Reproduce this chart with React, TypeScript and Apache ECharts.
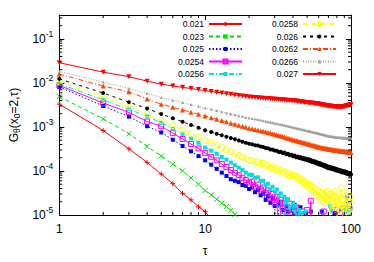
import React, { useEffect, useRef } from 'react';
import * as echarts from 'echarts';

const TAU = Array.from({ length: 100 }, (_, i) => i + 1);
const NAMES = ['0.021', '0.023', '0.025', '0.0254', '0.0256', '0.0258', '0.026', '0.0262', '0.0266', '0.027'];
const X_LABELS = ['1', '10', '100'];
const X_MIN = 1, X_MAX = 100, Y_MIN = 1e-5, Y_MAX = 0.35;
const X_MINOR = [2, 3, 4, 5, 6, 7, 8, 9, 20, 30, 40, 50, 60, 70, 80, 90];
const Y_MINOR_MANT = [2, 3, 4, 5, 6, 7, 8, 9];
const Y_DECADES = [-5, -4, -3, -2, -1];

const G021 = [3.3e-3, 8.3e-4, 3.18e-4, 1.57e-4, 8.5e-5, 5.15e-5, 3.1e-5, 2.2e-5, 1.53e-5, 1.19e-5, 8e-6, 6e-6];
const G023 = [4.9e-3, 1.53e-3, 7.0e-4, 3.6e-4, 2.19e-4, 1.42e-4, 1.01e-4, 6.9e-5, 5.0e-5, 3.6e-5, 2.85e-5, 2.27e-5, 1.85e-5, 1.55e-5, 1.27e-5, 1.03e-5, 8e-6, 6e-6];
const G025 = [8.1e-3, 3.0e-3, 1.72e-3, 1.04e-3, 7.5e-4, 5.12e-4, 3.7e-4, 2.8e-4, 2.18e-4, 1.75e-4,
  1.39e-4, 1.12e-4, 9.2e-5, 7.7e-5, 6.5e-5, 6.0e-5, 5.6e-5, 4.8e-5, 4.6e-5, 3.9e-5,
  4.2e-5, 3.3e-5, 3.7e-5, 2.8e-5, 3.1e-5, 2.2e-5, 2.7e-5, 1.9e-5, 2.4e-5, 1.6e-5,
  1e-6, 1.8e-5, 2.0e-5, 1.3e-5, 1e-6, 1.6e-5, 1.2e-5, 1e-6, 1.4e-5, 1e-6,
  1.7e-5, 1e-6, 1.2e-5, 1e-6, 1.5e-5, 1e-6, 1e-6, 1.1e-5, 1e-6, 1e-6,
  1e-6, 1e-6, 1.2e-5, 1e-6, 1e-6, 1e-6, 1e-6, 1e-6, 1e-6, 1e-6,
  1e-6, 1e-6, 1.2e-5, 1e-6, 1e-6, 1e-6, 1e-6, 1e-6, 1e-6, 1e-6,
  1e-6, 1e-6, 1e-6, 1e-6, 1e-6, 1e-6, 1.1e-5, 1e-6, 1e-6, 1e-6,
  1e-6, 1e-6, 1e-6, 1e-6, 1e-6, 1e-6, 1e-6, 1e-6, 1e-6, 1e-6,
  1e-6, 1e-6, 1e-6, 2.5e-5, 1e-6, 1e-6, 1e-6, 1e-6, 1.4e-5, 1e-6];
const G0254 = [8.8e-3, 3.5e-3, 2.14e-3, 1.33e-3, 1.04e-3, 7.26e-4, 5.35e-4, 4.1e-4, 3.25e-4, 2.55e-4,
  2.1e-4, 1.74e-4, 1.45e-4, 1.23e-4, 1.05e-4, 9.1e-5, 8.0e-5, 7.0e-5, 6.2e-5, 5.5e-5,
  5.7e-5, 4.4e-5, 4.9e-5, 3.8e-5, 4.2e-5, 3.2e-5, 3.6e-5, 2.4e-5, 3.0e-5, 1.9e-5,
  2.6e-5, 1e-6, 2.2e-5, 1.5e-5, 1.9e-5, 1e-6, 1.4e-5, 1.8e-5, 1e-6, 1.3e-5,
  1e-6, 1.5e-5, 1.1e-5, 1e-6, 1e-6, 1.2e-5, 1e-6, 1e-6, 1e-6, 1.3e-5,
  1e-6, 1e-6, 2.1e-5, 1e-6, 1e-6, 1e-6, 1e-6, 1e-6, 1e-6, 1e-6,
  1e-6, 1e-6, 1e-6, 1e-6, 1.2e-5, 1e-6, 1e-6, 1e-6, 1e-6, 1e-6,
  1e-6, 1e-6, 1e-6, 1e-6, 1e-6, 1e-6, 1e-6, 1e-6, 1e-6, 1.3e-5,
  1e-6, 1e-6, 1e-6, 1e-6, 1e-6, 1e-6, 1e-6, 1.4e-5, 1e-6, 1e-6,
  1e-6, 1e-6, 1e-6, 1e-6, 1e-6, 1e-6, 1e-6, 1e-6, 1e-6, 1e-6];
const G0256 = [9.6e-3, 4.1e-3, 2.52e-3, 1.74e-3, 1.25e-3, 9.1e-4, 7.0e-4, 5.5e-4, 4.4e-4, 3.4e-4,
  2.9e-4, 2.45e-4, 2.08e-4, 1.8e-4, 1.55e-4, 1.35e-4, 1.19e-4, 1.05e-4, 9.2e-5, 8.3e-5,
  8.1e-5, 7.0e-5, 7.2e-5, 5.9e-5, 6.0e-5, 4.8e-5, 5.1e-5, 3.9e-5, 4.4e-5, 3.4e-5,
  3.8e-5, 2.7e-5, 3.1e-5, 1e-6, 2.6e-5, 1.9e-5, 2.3e-5, 1.5e-5, 1e-6, 1.9e-5,
  1.2e-5, 1.6e-5, 1e-6, 1.3e-5, 1e-6, 1.1e-5, 1e-6, 1e-6, 1.2e-5, 1e-6,
  1e-6, 1e-6, 1e-6, 1e-6, 1e-6, 1e-6, 1e-6, 1e-6, 1e-6, 1e-6,
  1e-6, 1e-6, 1e-6, 1e-6, 1e-6, 1e-6, 1e-6, 1e-6, 1e-6, 1e-6,
  1e-6, 1.6e-5, 1.3e-5, 1e-6, 1e-6, 1e-6, 1e-6, 1e-6, 1e-6, 1e-6,
  1e-6, 1e-6, 1e-6, 1e-6, 1e-6, 1e-6, 1e-6, 1e-6, 1e-6, 1e-6,
  1.3e-5, 1e-6, 1e-6, 1e-6, 1e-6, 1e-6, 1.2e-5, 1e-6, 1e-6, 1e-6];
const G0258 = [1.06e-2, 4.7e-3, 2.85e-3, 1.97e-3, 1.4e-3, 1.07e-3, 8.5e-4, 6.95e-4, 5.83e-4, 4.99e-4,
  4.34e-4, 3.8e-4, 3.37e-4, 3.01e-4, 2.72e-4, 2.47e-4, 2.25e-4, 2.07e-4, 1.9e-4, 1.76e-4,
  1.72e-4, 1.58e-4, 1.61e-4, 1.46e-4, 1.49e-4, 1.32e-4, 1.35e-4, 1.2e-4, 1.23e-4, 1.08e-4,
  1.14e-4, 1.01e-4, 1.05e-4, 9.3e-5, 9.7e-5, 8.6e-5, 9.0e-5, 7.9e-5, 8.4e-5, 7.6e-5,
  7.9e-5, 6.8e-5, 7.3e-5, 6.2e-5, 6.7e-5, 5.6e-5, 6.1e-5, 5.1e-5, 5.6e-5, 4.7e-5,
  5.2e-5, 4.1e-5, 4.7e-5, 3.6e-5, 4.3e-5, 3.3e-5, 3.9e-5, 2.9e-5, 3.6e-5, 2.6e-5,
  3.3e-5, 2.4e-5, 3.1e-5, 2.1e-5, 2.9e-5, 1.9e-5, 3.2e-5, 2.4e-5, 3.5e-5, 2.1e-5,
  2.9e-5, 2e-6, 3.1e-5, 1.9e-5, 2.7e-5, 1.6e-5, 3.4e-5, 1.5e-5, 2.6e-5, 2e-6,
  2.4e-5, 1.7e-5, 2.9e-5, 1.3e-5, 2.5e-5, 4.1e-5, 1.6e-5, 2e-6, 2.2e-5, 1.4e-5,
  2.8e-5, 1.8e-5, 1.2e-5, 2e-6, 3.2e-5, 2.0e-5, 1.3e-5, 2.6e-5, 2e-6, 1.9e-5];
const G026 = [1.24e-2, 5.9e-3, 3.67e-3, 2.62e-3, 1.97e-3, 1.58e-3, 1.31e-3, 1.11e-3, 9.6e-4, 8.46e-4,
  7.67e-4, 7.02e-4, 6.47e-4, 6.0e-4, 5.59e-4, 5.24e-4, 4.92e-4, 4.64e-4, 4.4e-4, 4.17e-4,
  4.05e-4, 3.86e-4, 3.78e-4, 3.59e-4, 3.52e-4, 3.33e-4, 3.29e-4, 3.09e-4, 3.06e-4, 2.92e-4,
  2.89e-4, 2.71e-4, 2.75e-4, 2.55e-4, 2.62e-4, 2.4e-4, 2.46e-4, 2.29e-4, 2.33e-4, 2.17e-4,
  2.26e-4, 2.05e-4, 2.14e-4, 1.98e-4, 2.07e-4, 1.9e-4, 1.99e-4, 1.82e-4, 1.91e-4, 1.76e-4,
  1.86e-4, 1.68e-4, 1.78e-4, 1.6e-4, 1.7e-4, 1.55e-4, 1.64e-4, 1.48e-4, 1.57e-4, 1.43e-4,
  1.52e-4, 1.37e-4, 1.45e-4, 1.31e-4, 1.39e-4, 1.26e-4, 1.34e-4, 1.2e-4, 1.29e-4, 1.16e-4,
  1.25e-4, 1.14e-4, 1.22e-4, 1.11e-4, 1.19e-4, 1.08e-4, 1.15e-4, 1.04e-4, 1.12e-4, 1.02e-4,
  1.08e-4, 1.0e-4, 1.06e-4, 9.7e-5, 1.04e-4, 9.4e-5, 1.01e-4, 9.2e-5, 9.9e-5, 9.3e-5,
  9.8e-5, 8.9e-5, 9.5e-5, 8.6e-5, 9.2e-5, 8.4e-5, 9.0e-5, 8.2e-5, 8.8e-5, 8.3e-5];
const G0262 = [1.59e-2, 8.5e-3, 6.3e-3, 4.34e-3, 3.27e-3, 2.79e-3, 2.44e-3, 2.16e-3, 1.95e-3, 1.78e-3,
  1.63e-3, 1.5e-3, 1.4e-3, 1.31e-3, 1.22e-3, 1.15e-3, 1.09e-3, 1.04e-3, 9.8e-4, 9.4e-4,
  9.1e-4, 8.81e-4, 8.53e-4, 8.26e-4, 8.0e-4, 7.74e-4, 7.49e-4, 7.25e-4, 7.02e-4, 6.8e-4,
  6.61e-4, 6.42e-4, 6.24e-4, 6.06e-4, 5.89e-4, 5.72e-4, 5.56e-4, 5.4e-4, 5.25e-4, 5.1e-4,
  5.0e-4, 4.9e-4, 4.8e-4, 4.7e-4, 4.61e-4, 4.52e-4, 4.43e-4, 4.34e-4, 4.25e-4, 4.17e-4,
  4.1e-4, 4.03e-4, 3.96e-4, 3.89e-4, 3.82e-4, 3.75e-4, 3.68e-4, 3.62e-4, 3.55e-4, 3.49e-4,
  3.45e-4, 3.42e-4, 3.38e-4, 3.35e-4, 3.31e-4, 3.28e-4, 3.25e-4, 3.21e-4, 3.18e-4, 3.15e-4,
  3.13e-4, 3.1e-4, 3.08e-4, 3.06e-4, 3.03e-4, 3.01e-4, 2.99e-4, 2.97e-4, 2.94e-4, 2.92e-4,
  2.93e-4, 2.88e-4, 2.9e-4, 2.85e-4, 2.86e-4, 2.81e-4, 2.84e-4, 2.79e-4, 2.81e-4, 2.78e-4,
  2.79e-4, 2.74e-4, 2.77e-4, 2.71e-4, 2.73e-4, 2.68e-4, 2.71e-4, 2.65e-4, 2.68e-4, 2.64e-4];
const G0266 = [1.83e-2, 1.05e-2, 7.5e-3, 5.8e-3, 4.7e-3, 4.07e-3, 3.6e-3, 3.24e-3, 2.96e-3, 2.71e-3,
  2.52e-3, 2.36e-3, 2.21e-3, 2.09e-3, 1.98e-3, 1.89e-3, 1.8e-3, 1.73e-3, 1.65e-3, 1.59e-3,
  1.549e-3, 1.508e-3, 1.469e-3, 1.431e-3, 1.393e-3, 1.357e-3, 1.322e-3, 1.287e-3, 1.253e-3, 1.22e-3,
  1.194e-3, 1.168e-3, 1.142e-3, 1.118e-3, 1.093e-3, 1.07e-3, 1.046e-3, 1.024e-3, 1.002e-3, 9.8e-4,
  9.63e-4, 9.46e-4, 9.29e-4, 9.12e-4, 8.96e-4, 8.8e-4, 8.65e-4, 8.5e-4, 8.35e-4, 8.2e-4,
  8.08e-4, 7.97e-4, 7.85e-4, 7.74e-4, 7.63e-4, 7.52e-4, 7.41e-4, 7.3e-4, 7.2e-4, 7.1e-4,
  7.01e-4, 6.92e-4, 6.83e-4, 6.75e-4, 6.66e-4, 6.58e-4, 6.49e-4, 6.41e-4, 6.33e-4, 6.25e-4,
  6.2e-4, 6.15e-4, 6.11e-4, 6.06e-4, 6.02e-4, 5.97e-4, 5.93e-4, 5.89e-4, 5.84e-4, 5.8e-4,
  5.78e-4, 5.77e-4, 5.75e-4, 5.74e-4, 5.72e-4, 5.71e-4, 5.69e-4, 5.68e-4, 5.66e-4, 5.65e-4,
  5.63e-4, 5.62e-4, 5.6e-4, 5.59e-4, 5.57e-4, 5.56e-4, 5.54e-4, 5.53e-4, 5.51e-4, 5.5e-4];
const G027 = [2.88e-2, 1.76e-2, 1.39e-2, 1.1e-2, 9.35e-3, 8.57e-3, 7.96e-3, 7.46e-3, 7.06e-3, 6.71e-3,
  6.41e-3, 6.15e-3, 5.92e-3, 5.71e-3, 5.52e-3, 5.36e-3, 5.2e-3, 5.06e-3, 4.93e-3, 4.8e-3,
  4.73e-3, 4.67e-3, 4.61e-3, 4.56e-3, 4.5e-3, 4.46e-3, 4.41e-3, 4.37e-3, 4.32e-3, 4.28e-3,
  4.24e-3, 4.2e-3, 4.17e-3, 4.14e-3, 4.1e-3, 4.07e-3, 4.04e-3, 4.02e-3, 3.99e-3, 3.96e-3,
  3.92e-3, 3.88e-3, 3.84e-3, 3.8e-3, 3.76e-3, 3.72e-3, 3.68e-3, 3.65e-3, 3.61e-3, 3.58e-3,
  3.55e-3, 3.52e-3, 3.5e-3, 3.47e-3, 3.45e-3, 3.42e-3, 3.4e-3, 3.37e-3, 3.35e-3, 3.32e-3,
  3.29e-3, 3.25e-3, 3.22e-3, 3.19e-3, 3.16e-3, 3.12e-3, 3.09e-3, 3.06e-3, 3.03e-3, 3.0e-3,
  2.98e-3, 2.97e-3, 2.95e-3, 2.94e-3, 2.92e-3, 2.91e-3, 2.89e-3, 2.88e-3, 2.86e-3, 2.85e-3,
  2.84e-3, 2.84e-3, 2.83e-3, 2.83e-3, 2.83e-3, 2.85e-3, 2.86e-3, 2.88e-3, 2.9e-3, 2.92e-3,
  2.95e-3, 2.98e-3, 3.01e-3, 3.04e-3, 3.07e-3, 3.1e-3, 3.13e-3, 3.16e-3, 3.18e-3, 3.2e-3];

const VALUES = [G021, G023, G025, G0254, G0256, G0258, G026, G0262, G0266, G027];
const COLORS = ['#ff0000', '#00dd00', '#0000ff', '#ff00ff', '#00e0e0', '#ffff00', '#000000', '#ff4500', '#a0a0a0', '#ff0000'];
const DASHES: any[] = ['solid', [4, 3], [1.5, 2], 'solid', [5, 2, 1, 2], [4, 2, 1, 2], [3, 4], [5, 2, 1, 2], [1, 1.5], 'solid'];
const SYMBOLS = [
  'path://M0,5L10,5M5,0L5,10',
  'path://M0,0L10,10M0,10L10,0',
  'rect', 'rect', 'rect', 'circle', 'circle', 'triangle', 'triangle',
  'path://M0,0L10,0L5,9Z'
];
const SYM_SIZE = [5, 5, 4, 5, 4, 6, 4, 5, 3, 5];
const HOLLOW = [false, false, false, true, false, true, false, false, false, false];
const STROKE_SYM = [true, true, false, false, false, false, false, false, false, false];

const FONT = 'Liberation Sans, Arial, Helvetica, sans-serif';

export default function App() {
  const ref = useRef<HTMLDivElement>(null);
  useEffect(() => {
    document.body.style.margin = '0';
    const chart = echarts.init(ref.current!, null, { renderer: 'svg' });
    const lineSeries = VALUES.map((vals, k) => ({
      name: NAMES[k],
      type: 'line',
      xAxisIndex: 0,
      yAxisIndex: 0,
      data: vals.map((v, i) => [TAU[i], v]),
      symbol: SYMBOLS[k],
      symbolSize: SYM_SIZE[k],
      showAllSymbol: true,
      clip: true,
      lineStyle: { color: COLORS[k], width: 1, type: DASHES[k] },
      itemStyle: {
        color: HOLLOW[k] ? 'rgba(0,0,0,0)' : COLORS[k],
        borderColor: COLORS[k],
        borderWidth: HOLLOW[k] || STROKE_SYM[k] ? 1 : 0,
      },
      emphasis: { disabled: true },
      z: 2 + k,
    }));
    const yMinor: number[][] = [];
    Y_DECADES.forEach((d) => Y_MINOR_MANT.forEach((m) => {
      const v = m * Math.pow(10, d);
      if (v < Y_MAX) yMinor.push([X_MIN, v]);
    }));
    const tickStyle = { stroke: '#000', lineWidth: 1 };
    const xMinorSeries = {
      type: 'custom',
      silent: true,
      xAxisIndex: 0, yAxisIndex: 0,
      data: X_MINOR.map((t) => [t, Y_MIN]),
      z: 20,
      renderItem: (params: any, api: any) => {
        const b = api.coord([api.value(0), Y_MIN]);
        const t = api.coord([api.value(0), Y_MAX]);
        return {
          type: 'group',
          children: [
            { type: 'line', shape: { x1: b[0], y1: b[1], x2: b[0], y2: b[1] - 3 }, style: tickStyle },
            { type: 'line', shape: { x1: t[0], y1: t[1], x2: t[0], y2: t[1] + 3 }, style: tickStyle },
          ],
        };
      },
    };
    const yMinorSeries = {
      type: 'custom',
      silent: true,
      xAxisIndex: 0, yAxisIndex: 0,
      data: yMinor,
      z: 20,
      renderItem: (params: any, api: any) => {
        const l = api.coord([X_MIN, api.value(1)]);
        const r = api.coord([X_MAX, api.value(1)]);
        return {
          type: 'group',
          children: [
            { type: 'line', shape: { x1: l[0], y1: l[1], x2: l[0] + 3, y2: l[1] }, style: tickStyle },
            { type: 'line', shape: { x1: r[0], y1: r[1], x2: r[0] - 3, y2: r[1] }, style: tickStyle },
          ],
        };
      },
    };
    const axisLine = { show: true, lineStyle: { color: '#000', width: 1 } };
    const axisTick = { show: true, inside: true, length: 5, lineStyle: { color: '#000', width: 1 } };
    const legendBase = {
      orient: 'vertical',
      align: 'right',
      top: 18,
      itemWidth: 33,
      itemHeight: 5,
      itemGap: 0.5,
      padding: 0,
      selectedMode: false,
      textStyle: { fontSize: 8.5, lineHeight: 12, color: '#000', fontFamily: FONT },
    };
    chart.setOption({
      animation: false,
      backgroundColor: '#fff',
      grid: { left: 53, top: 15, right: 23, bottom: 40, containLabel: false },
      legend: [
        { ...legendBase, right: 131, data: NAMES.slice(0, 5) },
        { ...legendBase, right: 37, data: NAMES.slice(5) },
      ],
      xAxis: [
        {
          type: 'log', logBase: 10, min: X_MIN, max: X_MAX, position: 'bottom',
          axisLine, axisTick, splitLine: { show: false },
          axisLabel: {
            fontSize: 12, color: '#000', fontFamily: FONT, margin: 8,
            formatter: (v: number) => {
              const e = Math.round(Math.log10(v));
              return Math.abs(Math.log10(v) - e) < 1e-6 ? X_LABELS[e] ?? '' : '';
            },
          },
          name: 'τ', nameLocation: 'middle', nameGap: 30,
          nameTextStyle: { fontSize: 12, color: '#000', fontFamily: FONT },
        },
        {
          type: 'log', logBase: 10, min: X_MIN, max: X_MAX, position: 'top',
          axisLine, axisTick, splitLine: { show: false }, axisLabel: { show: false },
        },
      ],
      yAxis: [
        {
          type: 'log', logBase: 10, min: Y_MIN, max: Y_MAX, position: 'left',
          axisLine, axisTick, splitLine: { show: false },
          axisLabel: {
            color: '#000', margin: 6,
            formatter: (v: number) => {
              const l = Math.log10(v);
              const e = Math.round(l);
              if (Math.abs(l - e) > 1e-6) return '';
              return `{b|10}{s|${e}}`;
            },
            rich: {
              b: { fontSize: 12, fontFamily: FONT, color: '#000' },
              s: { fontSize: 8.5, fontFamily: FONT, color: '#000', padding: [0, 0, 10, 0] },
            },
          },
          name: 'G{sub|θ}(x{sub|0}=2,τ)', nameLocation: 'middle', nameGap: 33,
          nameTextStyle: {
            fontSize: 12, color: '#000', fontFamily: FONT,
            rich: {
              sub: { fontSize: 8.5, fontFamily: FONT, color: '#000', padding: [6, 0, 0, 0] },
            },
          },
        },
        {
          type: 'log', logBase: 10, min: Y_MIN, max: Y_MAX, position: 'right',
          axisLine, axisTick, splitLine: { show: false }, axisLabel: { show: false },
        },
      ],
      series: [...lineSeries, xMinorSeries, yMinorSeries],
    });
    return () => chart.dispose();
  }, []);
  return <div ref={ref} style={{ width: 374, height: 262 }} />;
}
